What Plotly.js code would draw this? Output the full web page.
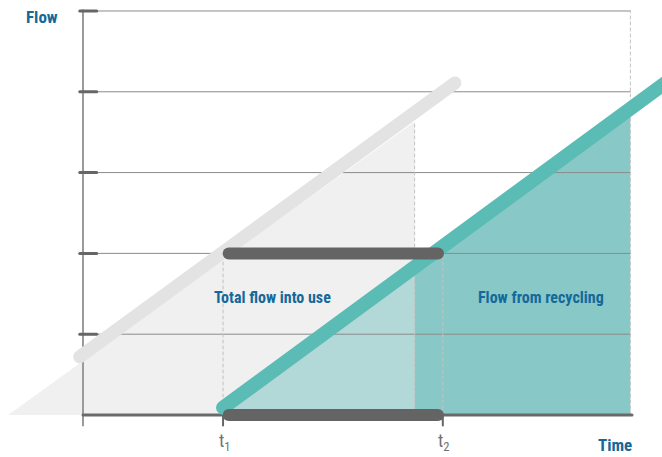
<!DOCTYPE html>
<html>
<head>
<meta charset="utf-8">
<script src="https://cdn.plot.ly/plotly-3.0.1.min.js"></script>
<style>html,body{margin:0;padding:0;background:#fff;}#chart{width:662px;height:457px;}</style>
</head>
<body>
<div id="chart"></div>
<script>
// ---- Data (conceptual units: time on x, flow on y) ----
const gridLevels = [1, 2, 3, 4, 5];
const axisEndX = 6.8;
const t1 = 1.74;
const tSplit = 4.12;
const t2 = 4.47;
const timeTickLabels = ['t<sub>1</sub>', 't<sub>2</sub>'];
const timeTickX = [t1, t2];

const totalFillX = [-0.93, tSplit, tSplit];
const totalFillY = [0, 3.63, 0];
const totalLineX = [-0.04, 4.62];
const totalLineY = [0.72, 4.11];

const recycleLineX = [1.74, 7.4];
const recycleLineY = [0.09, 4.23];
const recycleFillLightX = [1.74, tSplit, tSplit];
const recycleFillLightY = [0, 1.74, 0];
const recycleFillDarkX = [tSplit, tSplit, axisEndX, axisEndX];
const recycleFillDarkY = [0, 1.74, 3.70, 0];

const barStartX = 1.81;
const barEndX = 4.41;
const barLevels = [2, 0];
const labelTotal = 'Total flow into use';
const labelRecycle = 'Flow from recycling';
const labelFlow = 'Flow';
const labelTime = 'Time';

const FONT = '"Liberation Sans Narrow", "Roboto Condensed", Roboto, sans-serif';
const BLUE = '#15699a';

const traces = [];
// fills
traces.push({x: totalFillX, y: totalFillY, mode: 'lines', fill: 'toself', fillcolor: '#f0f0f0', line: {width: 0}, hoverinfo: 'skip'});
traces.push({x: recycleFillLightX, y: recycleFillLightY, mode: 'lines', fill: 'toself', fillcolor: '#b3d8d8', line: {width: 0}, hoverinfo: 'skip'});
traces.push({x: recycleFillDarkX, y: recycleFillDarkY, mode: 'lines', fill: 'toself', fillcolor: '#88c9c7', line: {width: 0}, hoverinfo: 'skip'});
// gridlines
gridLevels.forEach(g => {
  traces.push({x: [0, axisEndX], y: [g, g], mode: 'lines', line: {color: '#8a8a8a', width: 1}, hoverinfo: 'skip'});
});
// dotted verticals
const dotted = [[t1, 0, 2], [tSplit, 0, 3.63], [t2, 0, 2], [axisEndX, 0, 5]];
dotted.forEach(d => {
  traces.push({x: [d[0], d[0]], y: [d[1], d[2]], mode: 'lines', line: {color: '#c2c2c2', width: 1, dash: 'dot'}, hoverinfo: 'skip'});
});
// y axis line
traces.push({x: [0, 0], y: [-0.13, 5.01], mode: 'lines', line: {color: '#9a9a9a', width: 2}, hoverinfo: 'skip'});
// y tick marks
gridLevels.forEach(g => {
  traces.push({x: [-0.04, 0.17], y: [g, g], mode: 'lines', line: {color: '#666666', width: 3}, hoverinfo: 'skip'});
});
// x axis line
traces.push({x: [0, axisEndX + 0.02], y: [0, 0], mode: 'lines', line: {color: '#6a6a6a', width: 3}, hoverinfo: 'skip'});
// time ticks
timeTickX.forEach(tx => {
  traces.push({x: [tx, tx], y: [0, -0.13], mode: 'lines', line: {color: '#666666', width: 2}, hoverinfo: 'skip'});
});
// thick lines
traces.push({x: totalLineX, y: totalLineY, mode: 'lines', line: {color: '#e3e3e3', width: 13}, hoverinfo: 'skip'});
traces.push({x: recycleLineX, y: recycleLineY, mode: 'lines', line: {color: '#5bbcb5', width: 14}, hoverinfo: 'skip'});
barLevels.forEach(b => {
  traces.push({x: [barStartX, barEndX], y: [b, b], mode: 'lines', line: {color: '#646464', width: 12}, hoverinfo: 'skip'});
});

const annotations = [
  {x: -0.51, y: 4.93, text: labelFlow, showarrow: false, font: {family: FONT, size: 17, color: BLUE, weight: 'bold'}, xanchor: 'center', yanchor: 'middle'},
  {x: 6.61, y: -0.37, text: labelTime, showarrow: false, font: {family: FONT, size: 17, color: BLUE, weight: 'bold'}, xanchor: 'center', yanchor: 'middle'},
  {x: 2.35, y: 1.46, text: labelTotal, showarrow: false, font: {family: FONT, size: 16, color: BLUE, weight: 'bold'}, xanchor: 'center', yanchor: 'middle'},
  {x: 5.69, y: 1.46, text: labelRecycle, showarrow: false, font: {family: FONT, size: 16, color: BLUE, weight: 'bold'}, xanchor: 'center', yanchor: 'middle'}
];
timeTickX.forEach((tx, i) => {
  annotations.push({x: tx + 0.02, y: -0.34, text: timeTickLabels[i], showarrow: false, font: {family: FONT, size: 18, color: '#707070'}, xanchor: 'center', yanchor: 'middle'});
});

const layout = {
  width: 662, height: 457,
  margin: {l: 0, r: 0, t: 0, b: 0},
  paper_bgcolor: '#ffffff', plot_bgcolor: '#ffffff',
  showlegend: false,
  xaxis: {range: [-1.031, 7.193], visible: false, fixedrange: true},
  yaxis: {range: [-0.52, 5.136], visible: false, fixedrange: true},
  annotations: annotations
};

Plotly.newPlot('chart', traces, layout, {staticPlot: true, displayModeBar: false}).then(() => {
  document.querySelectorAll('.scatterlayer .js-line').forEach(p => {
    p.style.strokeLinecap = 'round';
  });
});
</script>
</body>
</html>
